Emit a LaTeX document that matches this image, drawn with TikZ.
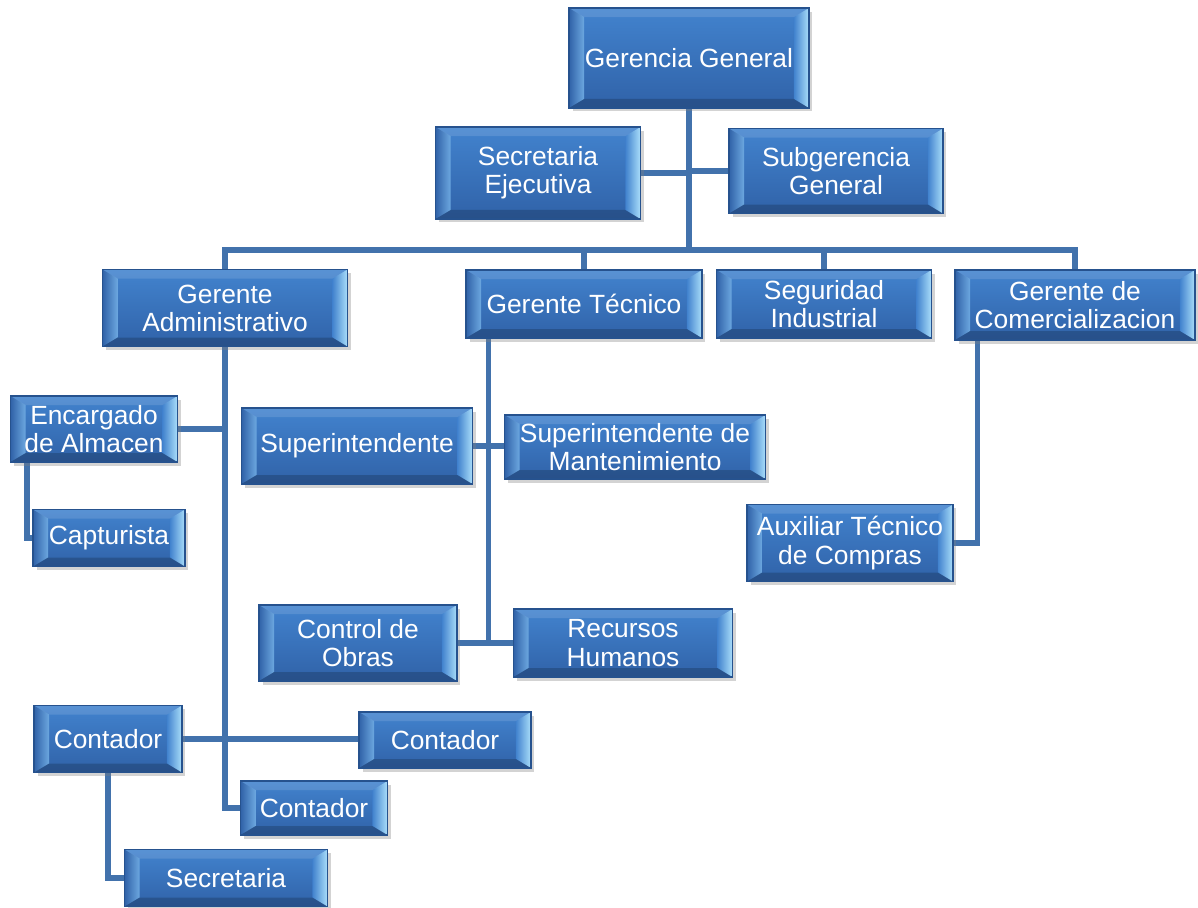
\documentclass[tikz,border=0pt]{standalone}
\usepackage{fontspec}
\setmainfont{Liberation Sans}
\usetikzlibrary{calc, shadows, backgrounds}

\definecolor{boxtop}{RGB}{66,131,206}
\definecolor{boxbot}{RGB}{48,98,168}
\definecolor{boxedge}{RGB}{38,82,142}
\definecolor{bevhi}{RGB}{170,222,250}
\definecolor{linkcol}{RGB}{66,114,172}

\tikzset{
  orgbox/.style={rectangle, draw=boxedge, line width=0.7pt,
    top color=boxtop, bottom color=boxbot, text=white, align=center,
    inner sep=1pt, font=\fontsize{15}{16}\selectfont,
    drop shadow={shadow xshift=0.07cm, shadow yshift=-0.07cm, opacity=0.35},
    path picture={
      \coordinate (bnw) at (path picture bounding box.north west);
      \coordinate (bne) at (path picture bounding box.north east);
      \coordinate (bsw) at (path picture bounding box.south west);
      \coordinate (bse) at (path picture bounding box.south east);
      % bevel edges
      \shade[left color=boxbot, right color=boxtop!60!bevhi]
        (bnw) -- ($(bnw)+(0.3cm,-0.18cm)$) -- ($(bsw)+(0.3cm,0.18cm)$) -- (bsw) -- cycle;
      \shade[left color=boxtop, right color=bevhi]
        (bne) -- ($(bne)+(-0.3cm,-0.18cm)$) -- ($(bse)+(-0.3cm,0.18cm)$) -- (bse) -- cycle;
      \fill[white, opacity=0.12]
        (bnw) -- (bne) -- ($(bne)+(-0.3cm,-0.18cm)$) -- ($(bnw)+(0.3cm,-0.18cm)$) -- cycle;
      \fill[black, opacity=0.18]
        (bsw) -- (bse) -- ($(bse)+(-0.3cm,0.18cm)$) -- ($(bsw)+(0.3cm,0.18cm)$) -- cycle;
    }},
  link/.style={draw=linkcol, line width=3pt}
}

\begin{document}
\begin{tikzpicture}[x=0.02cm, y=-0.02cm]
  \useasboundingbox (0,0) rectangle (1198,907);

  % top level
  \node[orgbox, minimum width=4.8cm, minimum height=2.0cm] (gg) at (689,58) {Gerencia General};
  \node[orgbox, minimum width=4.1cm, minimum height=1.84cm] (se) at (538,173) {Secretaria\\Ejecutiva};
  \node[orgbox, minimum width=4.28cm, minimum height=1.7cm] (sg) at (836,171) {Subgerencia\\General};

  % managers
  \node[orgbox, minimum width=4.9cm, minimum height=1.54cm] (ga) at (225,308) {Gerente\\Administrativo};
  \node[orgbox, minimum width=4.72cm, minimum height=1.36cm] (gt) at (584,304) {Gerente Técnico};
  \node[orgbox, minimum width=4.3cm, minimum height=1.36cm] (si) at (824,304) {Seguridad\\Industrial};
  \node[orgbox, minimum width=4.8cm, minimum height=1.4cm] (gc) at (1075,305) {Gerente de\\Comercializacion};

  % administrative branch
  \node[orgbox, minimum width=3.34cm, minimum height=1.32cm] (ea) at (94,429) {Encargado\\de Almacen};
  \node[orgbox, minimum width=3.04cm, minimum height=1.14cm] (cap) at (109,538) {Capturista};
  \node[orgbox, minimum width=2.96cm, minimum height=1.34cm] (cl) at (108,739) {Contador};
  \node[orgbox, minimum width=3.44cm, minimum height=1.12cm] (cr) at (445,740) {Contador};
  \node[orgbox, minimum width=2.94cm, minimum height=1.08cm] (cb) at (314,808) {Contador};
  \node[orgbox, minimum width=4.06cm, minimum height=1.14cm] (sec) at (226,878) {Secretaria};

  % technical branch
  \node[orgbox, minimum width=4.62cm, minimum height=1.52cm] (su) at (357,446) {Superintendente};
  \node[orgbox, minimum width=5.22cm, minimum height=1.28cm] (sm) at (635,447) {Superintendente de\\Mantenimiento};
  \node[orgbox, minimum width=3.96cm, minimum height=1.52cm] (co) at (358,643) {Control de\\Obras};
  \node[orgbox, minimum width=4.38cm, minimum height=1.36cm] (rh) at (623,643) {Recursos\\Humanos};

  % commercial branch
  \node[orgbox, minimum width=4.12cm, minimum height=1.54cm] (aux) at (850,543) {Auxiliar Técnico\\de Compras};

  \begin{scope}[on background layer]
    \coordinate (bus) at (689,250);
    \draw[link] (gg.south) -- (bus);
    \draw[link] (se.east) -- (se.east -| gg.south);
    \draw[link] (sg.west) -- (sg.west -| gg.south);
    \draw[link] (ga.north) -- (ga.north |- bus) -- (gc.north |- bus) -- (gc.north);
    \draw[link] (gt.north) -- (gt.north |- bus);
    \draw[link] (si.north) -- (si.north |- bus);

    % administrative spine
    \draw[link] (ga.south) -- (ga.south |- cb.west) -- (cb.west);
    \draw[link] (ea.east) -- (ea.east -| ga.south);
    \coordinate (eal) at ($(ea.south west)+(17,0)$);
    \draw[link] (eal) -- (eal |- cap.west) -- (cap.west);
    \draw[link] (cl.east) -- (cl.east -| cr.west);
    \draw[link] (cl.south) -- (cl.south |- sec.west) -- (sec.west);

    % technical spine
    \coordinate (tsp) at ($(gt.south west)+(23,0)$);
    \draw[link] (tsp) -- (tsp |- co.east);
    \draw[link] (su.east) -- (su.east -| sm.west);
    \draw[link] (co.east) -- (co.east -| rh.west);

    % commercial spine
    \coordinate (csp) at ($(gc.south west)+(23,0)$);
    \draw[link] (csp) -- (csp |- aux.east) -- (aux.east);
  \end{scope}
\end{tikzpicture}
\end{document}
